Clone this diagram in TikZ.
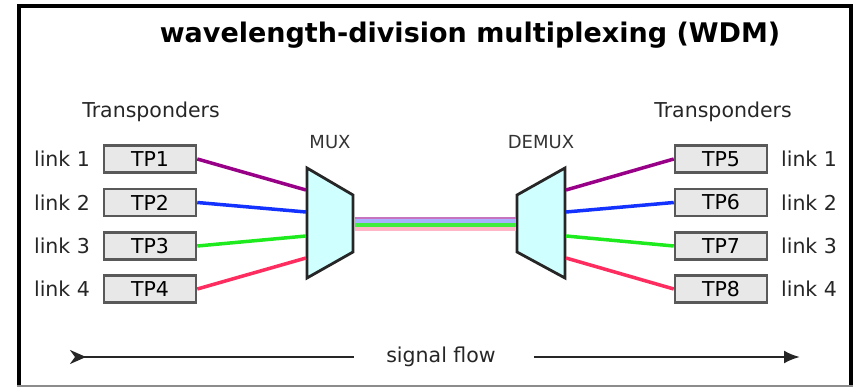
\documentclass[tikz,border=0pt]{standalone}
\usepackage{fontspec}
\setmainfont{DejaVu Sans}
\usetikzlibrary{arrows.meta}

\definecolor{lnpurple}{RGB}{153,0,136}
\definecolor{lnblue}{RGB}{20,50,255}
\definecolor{lngreen}{RGB}{30,235,30}
\definecolor{lnred}{RGB}{255,45,95}
\definecolor{muxfill}{RGB}{208,255,255}
\definecolor{tpfill}{RGB}{232,232,232}

\tikzset{
  tpbox/.style={draw=black!65, fill=tpfill, line width=2.5pt,
    minimum width=92pt, minimum height=27pt, inner sep=0pt,
    font=\fontsize{20.5}{22}\selectfont},
  lbl/.style={inner sep=0pt, font=\fontsize{20.5}{22}\selectfont, text=black!85},
  muxlbl/.style={inner sep=0pt, font=\fontsize{18}{20}\selectfont, text=black!80},
  muxshape/.style={draw=black!85, fill=muxfill, line width=2.8pt, line join=miter},
  wire/.style={line width=3.5pt},
  fibre/.style={line width=4pt},
  flowline/.style={line width=2.5pt, black!85}
}

\begin{document}
\begin{tikzpicture}[x=1pt, y=-1pt]
  \useasboundingbox (0,0) rectangle (854,387);

  % outer frame
  \draw[line width=4pt, black] (19,386) -- (19,6) -- (851,6) -- (851,386);
  \draw[line width=1.5pt, black!45] (17,386) -- (853,386);

  % title
  \node[inner sep=0pt, font=\bfseries\fontsize{27}{30}\selectfont] (title) at (470,35)
    {wavelength-division multiplexing (WDM)};

  \node[lbl] (trl) at (151,112) {Transponders};
  \node[lbl] (trr) at (723,112) {Transponders};

  % transponders, left side
  \foreach \i/\y in {1/159,2/202.5,3/246,4/289} {
    \node[tpbox] (tp\i) at (150,\y) {TP\i};
    \node[lbl] (ll\i) at (62,\y) {link \i};
  }
  % transponders, right side
  \foreach \i/\k/\y in {5/1/159,6/2/202.5,7/3/246,8/4/289} {
    \node[tpbox] (tp\i) at (721,\y) {TP\i};
    \node[lbl] (lr\k) at (809,\y) {link \k};
  }

  % multiplexer and demultiplexer
  \draw[muxshape] (307,168) -- (353,195) -- (353,252) -- (307,278) -- cycle;
  \draw[muxshape] (565,168) -- (517,195) -- (517,252) -- (565,278) -- cycle;
  \node[muxlbl] (muxl) at (330,142) {MUX};
  \node[muxlbl] (demuxl) at (541,142) {DEMUX};

  % ports on the multiplexer faces
  \coordinate (mi1) at (306,190);
  \coordinate (mi2) at (306,212);
  \coordinate (mi3) at (306,236);
  \coordinate (mi4) at (306,258);
  \coordinate (do1) at (566,190);
  \coordinate (do2) at (566,212);
  \coordinate (do3) at (566,236);
  \coordinate (do4) at (566,258);
  \coordinate (mo1) at (354.5,218);
  \coordinate (mo2) at (354.5,221.5);
  \coordinate (mo3) at (354.5,225.5);
  \coordinate (mo4) at (354.5,229.5);
  \coordinate (di1) at (515.5,218);
  \coordinate (di2) at (515.5,221.5);
  \coordinate (di3) at (515.5,225.5);
  \coordinate (di4) at (515.5,229.5);

  % shared fibre
  \draw[fibre, lnred!35] (mo4) -- (di4);
  \draw[fibre, lngreen!85] (mo3) -- (di3);
  \draw[fibre, lnblue!38] (mo2) -- (di2);
  \draw[fibre, lnpurple!55, line width=2.5pt] (mo1) -- (di1);

  % links into the MUX
  \draw[wire, lnpurple] (tp1.east) -- (mi1);
  \draw[wire, lnblue]   (tp2.east) -- (mi2);
  \draw[wire, lngreen]  (tp3.east) -- (mi3);
  \draw[wire, lnred]    (tp4.east) -- (mi4);
  % links out of the DEMUX
  \draw[wire, lnpurple] (do1) -- (tp5.west);
  \draw[wire, lnblue]   (do2) -- (tp6.west);
  \draw[wire, lngreen]  (do3) -- (tp7.west);
  \draw[wire, lnred]    (do4) -- (tp8.west);

  % signal flow
  \node[lbl] (flow) at (441,357) {signal flow};
  \coordinate (flowL) at (70,357);
  \coordinate (flowR) at (800,357);
  \draw[flowline, {Stealth[reversed, length=16pt, width=14pt, inset=5pt]}-] (flowL) -- ([xshift=-32pt]flow.west);
  \draw[flowline, -{Latex[length=16pt, width=13pt]}] ([xshift=38pt]flow.east) -- (flowR);
\end{tikzpicture}
\end{document}
